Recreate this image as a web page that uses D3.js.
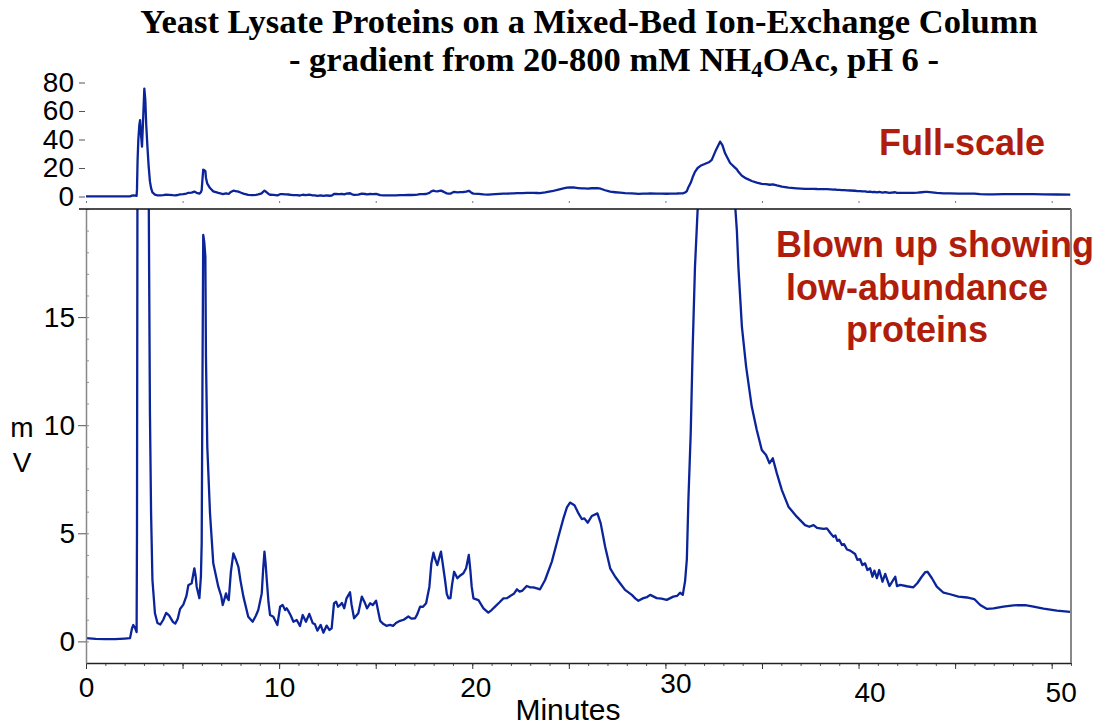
<!DOCTYPE html>
<html>
<head>
<meta charset="utf-8">
<script src="https://cdn.jsdelivr.net/npm/d3@7"></script>
<style>
  body { margin: 0; background: #fff; }
  .axis text { font-family: "Liberation Sans", Arial, sans-serif; fill: #000; }
</style>
</head>
<body>
<script>

// chromatogram: [minutes, mV]
var trace = [
  [0,0.15],[0.5,0.12],[1.0,0.1],[1.5,0.1],[2.0,0.13],[2.28,0.15],[2.38,0.6],[2.45,0.76],[2.55,0.6],[2.62,0.43],
  [2.64,5],[2.67,25],[2.71,40],[2.76,50],[2.80,53.6],[2.84,45],[2.90,35],[2.96,55],[3.02,75.7],[3.07,68],[3.12,50],
  [3.18,35],[3.24,22],[3.27,17],[3.31,10.6],[3.37,5.9],[3.44,2.84],[3.57,1.3],[3.7,0.85],[3.85,0.78],[4.0,1.0],
  [4.15,1.32],[4.3,1.2],[4.5,0.9],[4.62,0.82],[4.75,1.05],[4.87,1.5],[5.04,1.7],[5.2,2.1],[5.3,2.6],[5.47,2.69],
  [5.61,3.38],[5.68,3.0],[5.73,2.53],[5.87,2.0],[5.95,3.0],[5.99,4.55],[6.03,12],[6.07,18.8],[6.12,18.5],[6.18,17.8],
  [6.21,13.2],[6.28,9.0],[6.42,5.94],[6.59,3.61],[6.85,2.53],[7.0,2.1],[7.08,1.68],[7.25,2.22],[7.32,2.0],[7.39,1.91],
  [7.5,3.2],[7.63,4.07],[7.75,3.8],[7.89,3.45],[8.0,2.8],[8.15,2.07],[8.4,1.14],[8.63,0.91],[8.8,1.2],[8.92,1.45],
  [9.1,2.22],[9.17,3.3],[9.24,4.15],[9.3,3.6],[9.36,2.84],[9.45,1.8],[9.53,1.22],[9.7,1.14],[9.91,0.76],[10.05,1.6],
  [10.18,1.68],[10.31,1.45],[10.39,1.53],[10.48,1.4],[10.6,1.2],[10.74,0.91],[10.91,0.99],[11.08,0.71],[11.22,1.22],
  [11.39,0.91],[11.56,1.27],[11.74,0.84],[11.85,0.8],[11.98,0.5],[12.15,0.76],[12.29,0.4],[12.46,0.73],[12.6,0.53],
  [12.72,0.6],[12.84,1.76],[12.95,1.84],[13.05,1.6],[13.12,1.65],[13.25,1.78],[13.37,1.53],[13.49,1.99],[13.67,2.27],
  [13.75,1.7],[13.88,1.07],[14.1,1.3],[14.28,2.07],[14.45,1.76],[14.55,1.53],[14.71,1.76],[14.85,1.68],[15.02,1.88],
  [15.15,1.3],[15.23,0.95],[15.4,0.8],[15.55,0.72],[15.74,0.76],[15.9,0.72],[16.05,0.85],[16.26,0.95],[16.45,1.0],
  [16.69,1.15],[16.85,1.05],[17.04,1.07],[17.15,1.25],[17.3,1.61],[17.45,1.6],[17.61,1.76],[17.78,2.53],[17.88,3.6],
  [17.99,4.1],[18.08,3.8],[18.19,3.53],[18.3,3.9],[18.38,4.15],[18.47,3.6],[18.59,2.84],[18.68,2.2],[18.77,1.99],
  [18.87,2.0],[18.95,2.6],[19.06,3.22],[19.23,2.92],[19.38,3.05],[19.54,3.15],[19.68,3.38],[19.82,4.0],[19.9,3.3],
  [19.97,2.53],[20.06,1.99],[20.32,1.91],[20.58,1.53],[20.83,1.33],[21.0,1.45],[21.18,1.61],[21.4,1.8],[21.61,1.99],
  [21.8,2.0],[22.05,2.15],[22.15,2.2],[22.31,2.41],[22.45,2.3],[22.6,2.35],[22.82,2.56],[23.0,2.5],[23.16,2.5],
  [23.35,2.45],[23.51,2.41],[23.77,2.84],[24.12,3.69],[24.46,4.84],[24.72,5.69],[24.9,6.2],[25.06,6.42],[25.29,6.3],
  [25.5,5.92],[25.67,5.66],[25.8,5.69],[25.98,5.49],[26.19,5.8],[26.48,5.92],[26.65,5.46],[26.88,4.38],[27.14,3.38],
  [27.4,2.99],[27.65,2.69],[27.91,2.38],[28.26,2.15],[28.45,1.98],[28.6,1.88],[28.86,2.0],[29.05,2.05],[29.21,2.15],
  [29.55,2.0],[29.8,1.98],[30.07,1.92],[30.25,2.0],[30.41,2.07],[30.6,2.1],[30.76,2.25],[30.9,2.15],[31.02,2.8],
  [31.11,3.8],[31.19,6.54],[31.31,9.63],[31.41,13.5],[31.53,17.3],[31.67,20.0],[31.85,21.8],[32.06,23],[32.25,24],
  [32.4,25.7],[32.62,32.7],[32.83,38.5],[32.95,36],[33.09,30.3],[33.35,23.5],[33.6,20.3],[33.7,19.0],[33.78,17.3],
  [33.96,14.56],[34.18,12.7],[34.47,10.86],[34.73,9.78],[34.99,8.85],[35.21,8.62],[35.39,8.24],[35.56,8.47],
  [35.77,7.77],[36.03,7.0],[36.37,6.23],[36.8,5.77],[37.23,5.38],[37.45,5.3],[37.67,5.38],[37.85,5.25],[38.01,5.23],
  [38.2,5.2],[38.36,5.23],[38.55,5.0],[38.7,4.84],[38.8,4.9],[38.9,4.65],[39.0,4.7],[39.14,4.46],[39.25,4.5],
  [39.4,4.25],[39.57,4.2],[39.82,4.04],[39.94,3.77],[40.08,3.8],[40.2,3.53],[40.34,3.61],[40.46,3.3],[40.6,3.38],
  [40.72,2.99],[40.82,3.27],[40.95,2.92],[41.07,3.3],[41.24,2.76],[41.38,3.12],[41.6,2.56],[41.9,2.99],[41.99,2.56],
  [42.16,2.61],[42.5,2.55],[42.84,2.5],[43.05,2.7],[43.27,2.99],[43.45,3.2],[43.57,3.22],[43.8,2.92],[44.05,2.53],
  [44.4,2.25],[44.74,2.18],[45.17,2.07],[45.61,2.03],[45.99,1.96],[46.3,1.68],[46.65,1.5],[46.99,1.53],[47.5,1.61],
  [48.02,1.67],[48.63,1.68],[49.06,1.61],[49.58,1.51],[50.27,1.42],[50.96,1.36]
];

var xTicksMajor = [0, 10, 20, 30, 40, 50];
var yTicksTop = [0, 20, 40, 60, 80];
var yTicksBottom = [0, 5, 10, 15];

var width = 1102,
    height = 725;

var blue = "#0b2499",
    red = "#b01d0c";

var svg = d3.select("body").append("svg")
    .attr("width", width)
    .attr("height", height)
    .style("font-family", "'Liberation Sans', Arial, sans-serif");

svg.append("rect").attr("width", width).attr("height", height).attr("fill", "#fff");

var x = d3.scaleLinear().domain([0, 51]).range([86, 1071]);
var yTop = d3.scaleLinear().domain([0, 80]).range([196.5, 82.5]);
var yBot = d3.scaleLinear().domain([-1, 20]).range([663, 209]);

// ---------- title
svg.append("text")
    .attr("x", 589).attr("y", 33)
    .attr("text-anchor", "middle")
    .style("font-family", "'Liberation Serif', 'Times New Roman', serif")
    .style("font-weight", "bold")
    .style("font-size", "34.5px")
    .text("Yeast Lysate Proteins on a Mixed-Bed Ion-Exchange Column");

var t2 = svg.append("text")
    .attr("x", 614).attr("y", 71)
    .attr("text-anchor", "middle")
    .style("font-family", "'Liberation Serif', 'Times New Roman', serif")
    .style("font-weight", "bold")
    .style("font-size", "34.5px");
t2.append("tspan").text("- gradient from 20-800 mM NH");
t2.append("tspan").attr("dy", 6).style("font-size", "23px").text("4");
t2.append("tspan").attr("dy", -6).text("OAc, pH 6 -");

// ---------- top panel (full scale)
var line = function(yScale) {
  return d3.line()
    .x(function(d) { return x(d[0]); })
    .y(function(d) { return yScale(d[1]); });
};

svg.append("g")
    .attr("class", "axis")
    .attr("transform", "translate(85,0)")
    .call(d3.axisLeft(yTop).tickValues(yTicksTop).tickSize(6).tickPadding(5))
    .call(function(g) { g.select(".domain").remove(); })
    .call(function(g) { g.selectAll("text").style("font-size", "28px"); })
    .call(function(g) { g.selectAll("line").attr("stroke", "#555"); });

svg.append("g")
    .attr("transform", "translate(0,201)")
    .call(d3.axisBottom(x).tickValues(d3.range(0, 51, 5)).tickSize(2).tickFormat(""))
    .call(function(g) { g.select(".domain").remove(); })
    .call(function(g) { g.selectAll("line").attr("stroke", "#777"); });

svg.append("path")
    .attr("d", line(yTop)(trace))
    .attr("fill", "none")
    .attr("stroke", blue)
    .attr("stroke-width", 2.3)
    .attr("stroke-linejoin", "round");

// ---------- bottom panel (blown up)
svg.append("clipPath").attr("id", "clip")
  .append("rect")
    .attr("x", 86).attr("y", 209)
    .attr("width", 1071 - 86).attr("height", 663 - 209);

svg.append("path")
    .attr("d", line(yBot)(trace))
    .attr("clip-path", "url(#clip)")
    .attr("fill", "none")
    .attr("stroke", blue)
    .attr("stroke-width", 2.3)
    .attr("stroke-linejoin", "round");

// minor ticks
svg.append("g")
    .attr("transform", "translate(0,663)")
    .call(d3.axisBottom(x).tickValues(d3.range(0, 52, 1)).tickSize(3).tickSizeOuter(0).tickFormat(""))
    .call(function(g) { g.select(".domain").remove(); })
    .call(function(g) { g.selectAll("line").attr("stroke", "#555"); });

svg.append("g")
    .attr("transform", "translate(86,0)")
    .call(d3.axisLeft(yBot).tickValues(d3.range(-1, 21, 1)).tickSize(-3).tickSizeOuter(0).tickFormat(""))
    .call(function(g) { g.select(".domain").remove(); })
    .call(function(g) { g.selectAll("line").attr("stroke", "#999"); });

// labelled x axis; the original nudges some labels a little
var nudge = { 20: [3, 0], 30: [10, -4], 40: [11, 5], 50: [9, 5] };

svg.append("g")
    .attr("class", "axis")
    .attr("transform", "translate(0,663)")
    .call(d3.axisBottom(x).tickValues(d3.range(0, 51, 5)).tickSize(6).tickSizeOuter(0).tickPadding(8)
      .tickFormat(function(d) { return xTicksMajor.indexOf(d) >= 0 ? d : ""; }))
    .call(function(g) { g.select(".domain").attr("stroke", "#222").attr("stroke-width", 1.5); })
    .call(function(g) { g.selectAll("line").attr("stroke", "#333"); })
    .call(function(g) {
      g.selectAll("text")
        .style("font-size", "28px")
        .attr("x", function(d) { return nudge[d] ? nudge[d][0] : 0; })
        .attr("y", function(d) { return 14 + (nudge[d] ? nudge[d][1] : 0); });
    });

svg.append("g")
    .attr("class", "axis")
    .attr("transform", "translate(86,0)")
    .call(d3.axisLeft(yBot).tickValues(yTicksBottom).tickSize(8).tickSizeOuter(0).tickPadding(3))
    .call(function(g) { g.select(".domain").attr("stroke", "#888").attr("stroke-width", 1.5); })
    .call(function(g) { g.selectAll("line").attr("stroke", "#555"); })
    .call(function(g) { g.selectAll("text").style("font-size", "28px"); });

// frame: top and right edges
svg.append("line")
    .attr("x1", 79).attr("x2", 1071).attr("y1", 209).attr("y2", 209)
    .attr("stroke", "#111").attr("stroke-width", 1.5);
svg.append("line")
    .attr("x1", 1071).attr("x2", 1071).attr("y1", 209).attr("y2", 663)
    .attr("stroke", "#888").attr("stroke-width", 2);

// ---------- axis titles
svg.append("text").attr("x", 22).attr("y", 437).attr("text-anchor", "middle")
    .style("font-size", "28px").text("m");
svg.append("text").attr("x", 22).attr("y", 472).attr("text-anchor", "middle")
    .style("font-size", "28px").text("V");
svg.append("text").attr("x", 568).attr("y", 720).attr("text-anchor", "middle")
    .style("font-size", "30px").text("Minutes");

// ---------- annotations
var note = function(tx, ty, s) {
  svg.append("text")
      .attr("x", tx).attr("y", ty)
      .attr("text-anchor", "middle")
      .style("font-size", "36px")
      .style("font-weight", "bold")
      .attr("fill", red)
      .text(s);
};
note(962, 155, "Full-scale");
note(935, 257, "Blown up showing");
note(917, 300, "low-abundance");
note(917, 342, "proteins");

</script>
</body>
</html>
